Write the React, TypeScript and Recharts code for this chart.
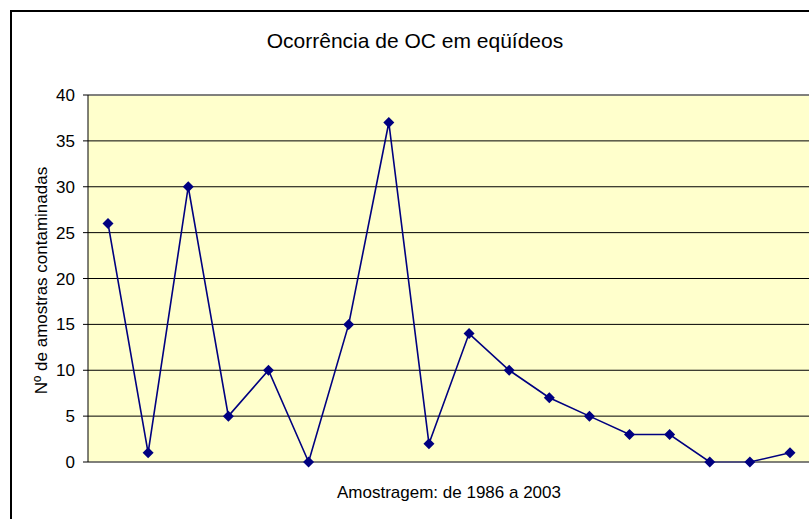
import { LineChart, Line, XAxis, YAxis, CartesianGrid, ReferenceLine } from "recharts";

// amostragem anual 1986..2003
const years = ["1986", "1987", "1988", "1989", "1990", "1991", "1992", "1993", "1994",
  "1995", "1996", "1997", "1998", "1999", "2000", "2001", "2002", "2003"];
const amostras = [26, 1, 30, 5, 10, 0, 15, 37, 2, 14, 10, 7, 5, 3, 3, 0, 0, 1];
const yTicks = [0, 5, 10, 15, 20, 25, 30, 35, 40];

const data = years.map((y, i) => ({ ano: y, n: amostras[i] }));

const FONT = "'Liberation Sans', Arial, sans-serif";

// marcador losango
const Diamond = (props: any) => {
  const { cx, cy } = props;
  if (cx == null || cy == null) return null;
  const r = 5.5;
  return <polygon points={`${cx},${cy - r} ${cx + r},${cy} ${cx},${cy + r} ${cx - r},${cy}`} fill="#000080" />;
};

const YLabel = ({ viewBox }: any) => {
  const x = 41;
  const y = viewBox.y + viewBox.height / 2 + 2;
  return (
    <text x={x} y={y} transform={`rotate(-90, ${x}, ${y})`} textAnchor="middle"
      dominantBaseline="central" fontSize={17} fill="#000" fontFamily={FONT}>
      Nº de amostras contaminadas
    </text>
  );
};

const XLabel = () => (
  <text x={449} y={492} textAnchor="middle" dominantBaseline="central" fontSize={17}
    fill="#000" fontFamily={FONT}>
    Amostragem: de 1986 a 2003
  </text>
);

export default function App() {
  return (
    <div style={{ position: "fixed", left: 0, top: 0, width: 809, height: 519, overflow: "hidden", background: "#fff" }}>
      <div style={{ position: "absolute", left: 10, top: 10, width: 840, height: 560, border: "2px solid #000", boxSizing: "border-box" }} />
      <div style={{ position: "absolute", left: 0, top: 29, width: 830, textAlign: "center", fontFamily: FONT, fontSize: 21, lineHeight: "24px" }}>
        Ocorrência de OC em eqüídeos
      </div>
      <div style={{ position: "absolute", left: 0, top: 0 }}>
        <LineChart width={830} height={540} data={data}
          margin={{ top: 95, right: 20, left: 28, bottom: 77 }}>
          <CartesianGrid vertical={false} stroke="#000" fill="#FFFFCC" strokeWidth={1} />
          <XAxis dataKey="ano" tick={false} tickLine={false} stroke="#808080" height={1}
            padding={{ left: 20, right: 20 }} label={<XLabel />} />
          <YAxis domain={[0, 40]} ticks={yTicks} width={60} stroke="#000" tickSize={5}
            tickMargin={8} interval={0} tick={{ fill: "#000", fontSize: 17, fontFamily: FONT }}
            label={<YLabel />} />
          <ReferenceLine y={40} stroke="#808080" strokeWidth={1.5} />
          <Line dataKey="n" stroke="#000080" strokeWidth={1.6} dot={<Diamond />}
            activeDot={false} isAnimationActive={false} />
        </LineChart>
      </div>
    </div>
  );
}
